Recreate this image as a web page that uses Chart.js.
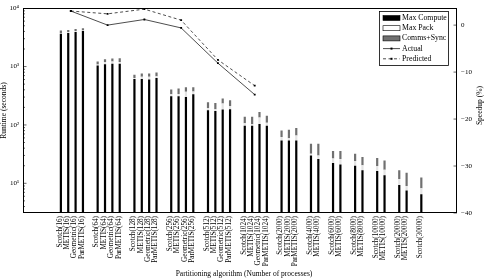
<!DOCTYPE html>
<html>
<head>
<meta charset="utf-8">
<script src="https://cdn.jsdelivr.net/npm/chart.js@4.4.0/dist/chart.umd.min.js"></script>
<style>
    html, body { margin: 0; padding: 0; background: #fff; }
    #wrap { width: 485px; height: 278px; }
</style>
</head>
<body>
<div id="wrap"><canvas id="chart"></canvas></div>
<script>
// bar categories, in plot order
const categories = [
    'Scotch(16)', 'METIS(16)', 'Geometric(16)', 'ParMETIS(16)',
    'Scotch(64)', 'METIS(64)', 'Geometric(64)', 'ParMETIS(64)',
    'Scotch(128)', 'METIS(128)', 'Geometric(128)', 'ParMETIS(128)',
    'Scotch(256)', 'METIS(256)', 'Geometric(256)', 'ParMETIS(256)',
    'Scotch(512)', 'METIS(512)', 'Geometric(512)', 'ParMETIS(512)',
    'Scotch(1024)', 'METIS(1024)', 'Geometric(1024)', 'ParMETIS(1024)',
    'Scotch(2000)', 'METIS(2000)', 'ParMETIS(2000)',
    'Scotch(4000)', 'METIS(4000)',
    'Scotch(6000)', 'METIS(6000)',
    'Scotch(8000)', 'METIS(8000)',
    'Scotch(10000)', 'METIS(10000)',
    'Scotch(20000)', 'METIS(20000)',
    'Scotch(30000)'
];

// runtime pieces (seconds)
const maxCompute = [3650, 3750, 3900, 4050, 1040, 1100, 1120, 1120, 610, 610, 600, 640,
    310, 310, 300, 334, 179, 174, 183, 186, 97, 97, 104, 97, 54, 54, 54, 30, 26,
    22.3, 21, 20, 16.8, 16.3, 13.8, 9.4, 7.5, 6.5];
const maxPack = [100, 150, 150, 100, 40, 80, 100, 80, 30, 60, 70, 40,
    25, 30, 70, 40, 15, 12, 50, 25, 10, 6, 30, 12, 8, 5, 12, 2, 4,
    4.2, 5, 4, 3.5, 3.5, 3.2, 2.5, 1.5, 1.7];
const commsSync = [380, 350, 350, 380, 140, 150, 150, 190, 86, 94, 94, 114,
    70, 81, 73, 69, 50, 52, 52, 53, 31, 35, 33, 34, 18, 24, 23, 15.6, 17.6,
    9.1, 9.6, 8.2, 7.9, 7.3, 7.5, 4.9, 6.1, 4.4];

// speedup (%) per process count
const speedupProcs = [16, 64, 128, 256, 512, 1024];
const speedupActual = [3.0, 0.0, 1.2, -0.6, -8.1, -14.8];
const speedupPredicted = [3.0, 2.4, 3.4, 1.05, -7.4, -12.9];

const runtimeTicks = [10, 100, 1000, 10000];
const speedupTicks = [-40, -30, -20, -10, 0];

const FONT = "'Liberation Serif', 'DejaVu Serif', serif";
const GREY = '#707070';
const PACK = '#e4e4e4';
const BAR_W = 2.2;

// slot layout: 5 empty slots each side, one empty slot between process groups
const procsOf = s => s.match(/\((\d+)\)/)[1];
const labels = ['', '', '', '', ''];
categories.forEach((c, i) => {
    if (i > 0 && procsOf(c) !== procsOf(categories[i - 1])) labels.push('');
    labels.push(c);
});
labels.push('', '', '', '', '');

function toSlots(values) {
    return labels.map(l => {
        const i = categories.indexOf(l);
        return i >= 0 ? values[i] : null;
    });
}

function groupCenter(p) {
    const idx = [];
    labels.forEach((l, i) => { if (l && procsOf(l) === String(p)) idx.push(i); });
    return idx.reduce((a, b) => a + b, 0) / idx.length;
}

const actualPts = speedupProcs.map((p, i) => ({ x: groupCenter(p), y: speedupActual[i] }));
const predictedPts = speedupProcs.map((p, i) => ({ x: groupCenter(p), y: speedupPredicted[i] }));

const decorPlugin = {
    id: 'decor',
    afterDraw(chart) {
        const ctx = chart.ctx;
        const a = chart.chartArea;
        const yL = chart.scales.y;
        const yR = chart.scales.y2;
        ctx.save();
        ctx.strokeStyle = '#000';
        ctx.lineWidth = 1;
        ctx.strokeRect(Math.round(a.left) + 0.5, Math.round(a.top) + 0.5,
            Math.round(a.right - a.left) - 1, Math.round(a.bottom - a.top) - 1);

        // inward tick marks
        ctx.lineWidth = 0.6;
        ctx.beginPath();
        for (let e = 0; e < 4; e++) {
            for (let k = 1; k <= 9; k++) {
                const v = k * Math.pow(10, e);
                if (v < yL.min || v > yL.max) continue;
                const py = yL.getPixelForValue(v);
                const len = k === 1 ? 3.5 : 2;
                ctx.moveTo(a.left, py);
                ctx.lineTo(a.left + len, py);
            }
        }
        speedupTicks.forEach(v => {
            const py = yR.getPixelForValue(v);
            ctx.moveTo(a.right, py);
            ctx.lineTo(a.right - 3.5, py);
        });
        ctx.stroke();

        // axis titles
        ctx.fillStyle = '#000';
        ctx.font = '7.5px ' + FONT;
        ctx.textAlign = 'center';
        ctx.textBaseline = 'middle';
        ctx.fillText('Partitioning algorithm (Number of processes)', (a.left + a.right) / 2 + 4, 274);
        ctx.save();
        ctx.translate(4, (a.top + a.bottom) / 2);
        ctx.rotate(-Math.PI / 2);
        ctx.fillText('Runtime (seconds)', 0, 0);
        ctx.restore();
        ctx.save();
        ctx.translate(480, (a.top + a.bottom) / 2 - 5);
        ctx.rotate(-Math.PI / 2);
        ctx.fillText('Speedup (%)', 0, 0);
        ctx.restore();

        // legend box
        const ds = chart.data.datasets;
        const order = [2, 3, 4, 0, 1];
        const bx = 379.5, by = 11.5, bw = 69, bh = 54;
        ctx.fillStyle = '#fff';
        ctx.fillRect(bx, by, bw, bh);
        ctx.lineWidth = 0.8;
        ctx.strokeStyle = '#000';
        ctx.strokeRect(bx, by, bw, bh);
        ctx.textAlign = 'left';
        ctx.font = '7.8px ' + FONT;
        order.forEach((di, r) => {
            const d = ds[di];
            const cy = by + 6.5 + r * 10.2;
            if (d.type === 'bar') {
                ctx.fillStyle = d.backgroundColor === PACK ? '#fff' : d.backgroundColor;
                ctx.fillRect(383, cy - 2.5, 17, 5);
                ctx.lineWidth = 0.6;
                ctx.strokeRect(383, cy - 2.5, 17, 5);
            } else {
                ctx.lineWidth = 0.7;
                ctx.setLineDash(d.borderDash || []);
                ctx.beginPath();
                ctx.moveTo(383, cy);
                ctx.lineTo(400, cy);
                ctx.stroke();
                ctx.setLineDash([]);
                ctx.fillStyle = '#000';
                ctx.fillRect(390.5, cy - 1, 2, 2);
            }
            ctx.fillStyle = '#000';
            ctx.fillText(d.label, 402, cy);
        });
        ctx.restore();
    }
};

const barStyle = { xAxisID: 'x', yAxisID: 'y', barThickness: BAR_W, inflateAmount: 0, borderWidth: 0 };

new Chart(document.getElementById('chart'), {
    data: {
        labels: labels,
        datasets: [
            {
                type: 'line', label: 'Actual', data: actualPts,
                xAxisID: 'x2', yAxisID: 'y2',
                borderColor: '#000', borderWidth: 0.7,
                pointStyle: 'rect', pointRadius: 1.3, pointBackgroundColor: '#000', pointBorderWidth: 0
            },
            {
                type: 'line', label: 'Predicted', data: predictedPts,
                xAxisID: 'x2', yAxisID: 'y2',
                borderColor: '#000', borderWidth: 0.7, borderDash: [3, 2.5],
                pointStyle: 'rect', pointRadius: 1.3, pointBackgroundColor: '#000', pointBorderWidth: 0
            },
            Object.assign({ type: 'bar', label: 'Max Compute', data: toSlots(maxCompute), backgroundColor: '#000' }, barStyle),
            Object.assign({ type: 'bar', label: 'Max Pack', data: toSlots(maxPack), backgroundColor: PACK }, barStyle),
            Object.assign({ type: 'bar', label: 'Comms+Sync', data: toSlots(commsSync), backgroundColor: GREY }, barStyle)
        ]
    },
    options: {
        responsive: true,
        maintainAspectRatio: false,
        animation: false,
        layout: { padding: { top: 6, left: 0, right: 0, bottom: 0 } },
        plugins: {
            legend: { display: false },
            tooltip: { enabled: false }
        },
        scales: {
            x: {
                type: 'category',
                offset: false,
                stacked: true,
                grid: { display: false, drawTicks: false },
                border: { display: false },
                ticks: {
                    autoSkip: false, maxRotation: 90, minRotation: 90, padding: 3,
                    color: '#000', font: { family: FONT, size: 7.2 }
                },
                afterFit: s => { s.height = 65; }
            },
            x2: { type: 'linear', display: false, min: 0, max: labels.length - 1 },
            y: {
                type: 'logarithmic',
                position: 'left',
                stacked: true,
                min: 3.1,
                max: 10000,
                grid: { display: false, drawTicks: false },
                border: { display: false },
                afterBuildTicks: s => { s.ticks = runtimeTicks.map(v => ({ value: v })); },
                ticks: {
                    padding: 4, color: '#000', font: { family: FONT, size: 7 },
                    callback: v => '10' + '⁰¹²³⁴'[Math.round(Math.log10(v))]
                },
                afterFit: s => { s.width = 23; }
            },
            y2: {
                type: 'linear',
                position: 'right',
                min: -40,
                max: 3.6,
                grid: { display: false, drawTicks: false },
                border: { display: false },
                afterBuildTicks: s => { s.ticks = speedupTicks.map(v => ({ value: v })); },
                ticks: {
                    padding: 4, color: '#000', font: { family: FONT, size: 7 },
                    callback: v => v < 0 ? '\u2212' + Math.abs(v) : String(v)
                },
                afterFit: s => { s.width = 28; }
            }
        }
    },
    plugins: [decorPlugin]
});
</script>
</body>
</html>
